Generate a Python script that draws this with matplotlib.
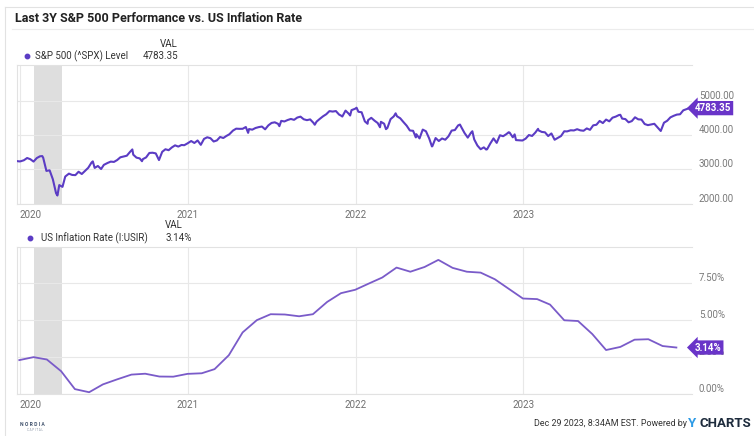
import pandas as pd
import matplotlib.pyplot as plt
from matplotlib.lines import Line2D

plt.rcParams['font.family'] = ['Roboto', 'DejaVu Sans']

# S&P 500 closing levels (roughly weekly)
spx_dates = [
    '2019-12-26', '2019-12-31', '2020-01-03', '2020-01-10', '2020-01-17', '2020-01-24', '2020-01-31',
    '2020-02-07', '2020-02-14', '2020-02-19', '2020-02-21', '2020-02-28', '2020-03-06', '2020-03-13',
    '2020-03-20', '2020-03-23', '2020-03-27', '2020-04-03', '2020-04-09', '2020-04-17', '2020-04-24',
    '2020-05-01', '2020-05-08', '2020-05-15', '2020-05-22', '2020-05-29', '2020-06-05', '2020-06-08',
    '2020-06-12', '2020-06-19', '2020-06-26', '2020-07-02', '2020-07-10', '2020-07-17', '2020-07-24',
    '2020-07-31', '2020-08-07', '2020-08-14', '2020-08-21', '2020-08-28', '2020-09-02', '2020-09-04',
    '2020-09-11', '2020-09-18', '2020-09-23', '2020-09-25', '2020-10-02', '2020-10-09', '2020-10-16',
    '2020-10-23', '2020-10-30', '2020-11-06', '2020-11-13', '2020-11-20', '2020-11-27', '2020-12-04',
    '2020-12-11', '2020-12-18', '2020-12-24', '2020-12-31',
    '2021-01-08', '2021-01-15', '2021-01-22', '2021-01-29', '2021-02-05', '2021-02-12', '2021-02-19',
    '2021-02-26', '2021-03-05', '2021-03-12', '2021-03-19', '2021-03-26', '2021-04-01', '2021-04-09',
    '2021-04-16', '2021-04-23', '2021-04-30', '2021-05-07', '2021-05-12', '2021-05-14', '2021-05-21',
    '2021-05-28', '2021-06-04', '2021-06-11', '2021-06-18', '2021-06-25', '2021-07-02', '2021-07-09',
    '2021-07-16', '2021-07-19', '2021-07-23', '2021-07-30', '2021-08-06', '2021-08-13', '2021-08-20',
    '2021-08-27', '2021-09-03', '2021-09-10', '2021-09-17', '2021-09-24', '2021-10-01', '2021-10-04',
    '2021-10-08', '2021-10-15', '2021-10-22', '2021-10-29', '2021-11-05', '2021-11-12', '2021-11-19',
    '2021-11-26', '2021-11-30', '2021-12-03', '2021-12-10', '2021-12-17', '2021-12-20', '2021-12-23',
    '2021-12-31', '2022-01-03',
    '2022-01-07', '2022-01-14', '2022-01-21', '2022-01-27', '2022-01-28', '2022-02-04', '2022-02-11',
    '2022-02-18', '2022-02-23', '2022-02-25', '2022-03-04', '2022-03-08', '2022-03-11', '2022-03-18',
    '2022-03-25', '2022-03-29', '2022-04-01', '2022-04-08', '2022-04-14', '2022-04-22', '2022-04-29',
    '2022-05-06', '2022-05-12', '2022-05-13', '2022-05-20', '2022-05-27', '2022-06-03', '2022-06-10',
    '2022-06-16', '2022-06-17', '2022-06-24', '2022-07-01', '2022-07-08', '2022-07-15', '2022-07-22',
    '2022-07-29', '2022-08-05', '2022-08-12', '2022-08-16', '2022-08-19', '2022-08-26', '2022-09-02',
    '2022-09-09', '2022-09-12', '2022-09-16', '2022-09-23', '2022-09-30', '2022-10-07', '2022-10-12',
    '2022-10-14', '2022-10-21', '2022-10-28', '2022-11-04', '2022-11-11', '2022-11-18', '2022-11-25',
    '2022-11-30', '2022-12-02', '2022-12-09', '2022-12-13', '2022-12-16', '2022-12-23', '2022-12-30',
    '2023-01-06', '2023-01-13', '2023-01-20', '2023-01-27', '2023-02-02', '2023-02-03', '2023-02-10',
    '2023-02-17', '2023-02-24', '2023-03-03', '2023-03-10', '2023-03-17', '2023-03-24', '2023-03-31',
    '2023-04-06', '2023-04-14', '2023-04-21', '2023-04-28', '2023-05-05', '2023-05-12', '2023-05-19',
    '2023-05-26', '2023-06-02', '2023-06-09', '2023-06-16', '2023-06-23', '2023-06-30', '2023-07-07',
    '2023-07-14', '2023-07-21', '2023-07-28', '2023-07-31', '2023-08-04', '2023-08-11', '2023-08-18',
    '2023-08-25', '2023-09-01', '2023-09-08', '2023-09-15', '2023-09-22', '2023-09-29', '2023-10-06',
    '2023-10-13', '2023-10-20', '2023-10-27', '2023-11-03', '2023-11-10', '2023-11-17', '2023-11-24',
    '2023-12-01', '2023-12-08', '2023-12-15', '2023-12-22', '2023-12-28',
]
spx_close = [
    3240, 3231, 3235, 3265, 3330, 3295, 3226,
    3328, 3380, 3386, 3338, 2954, 2972, 2711,
    2305, 2237, 2541, 2489, 2790, 2875, 2837,
    2831, 2930, 2864, 2955, 3044, 3194, 3232,
    3041, 3098, 3009, 3130, 3185, 3225, 3216,
    3271, 3351, 3373, 3397, 3508, 3580, 3427,
    3341, 3319, 3237, 3298, 3348, 3477, 3484,
    3465, 3270, 3510, 3585, 3558, 3638, 3699,
    3663, 3710, 3703, 3756,
    3825, 3768, 3841, 3714, 3887, 3934, 3907,
    3811, 3842, 3943, 3913, 3975, 4020, 4129,
    4185, 4180, 4181, 4233, 4063, 4174, 4156,
    4204, 4230, 4247, 4166, 4281, 4352, 4370,
    4327, 4258, 4412, 4395, 4437, 4468, 4442,
    4509, 4535, 4459, 4433, 4455, 4357, 4300,
    4391, 4471, 4545, 4605, 4697, 4683, 4698,
    4595, 4567, 4538, 4712, 4620, 4568, 4725,
    4766, 4796,
    4677, 4663, 4398, 4327, 4432, 4501, 4419,
    4349, 4226, 4385, 4329, 4171, 4204, 4463,
    4543, 4632, 4546, 4488, 4393, 4272, 4132,
    4123, 3930, 4024, 3901, 4158, 4109, 3901,
    3667, 3675, 3912, 3825, 3899, 3863, 3962,
    4130, 4145, 4280, 4305, 4228, 4058, 3924,
    4067, 4110, 3873, 3693, 3586, 3640, 3577,
    3583, 3752, 3901, 3771, 3993, 3965, 4026,
    4080, 4072, 3934, 4019, 3852, 3845, 3840,
    3895, 3999, 3973, 4071, 4180, 4136, 4090,
    4079, 3970, 4046, 3862, 3917, 3971, 4109,
    4105, 4138, 4133, 4169, 4136, 4124, 4192,
    4151, 4282, 4299, 4410, 4348, 4450, 4399,
    4505, 4536, 4582, 4589, 4478, 4464, 4370,
    4406, 4516, 4457, 4450, 4320, 4288, 4308,
    4327, 4224, 4117, 4358, 4415, 4514, 4559,
    4595, 4604, 4719, 4755, 4783.35,
]

# US inflation rate, monthly, Dec 2019 - Nov 2023 (%)
cpi_yoy = [
    2.29,
    2.49, 2.33, 1.54, 0.33, 0.12, 0.65, 0.99, 1.31, 1.37, 1.18, 1.17, 1.36,
    1.40, 1.68, 2.62, 4.16, 4.99, 5.39, 5.37, 5.25, 5.39, 6.22, 6.81, 7.04,
    7.48, 7.87, 8.54, 8.26, 8.58, 9.06, 8.52, 8.26, 8.20, 7.75, 7.11, 6.45,
    6.41, 6.04, 4.98, 4.93, 4.05, 2.97, 3.18, 3.67, 3.70, 3.24, 3.14,
]
cpi_dates = pd.date_range('2019-12-31', periods=len(cpi_yoy), freq='ME')

spx_ticks = [2000, 3000, 4000, 5000]
spx_tick_labels = ['2000.00', '3000.00', '4000.00', '5000.00']
cpi_ticks = [0, 2.5, 5, 7.5]
cpi_tick_labels = ['0.00%', '2.50%', '5.00%', '7.50%']
year_ticks = ['2020-01-01', '2021-01-01', '2022-01-01', '2023-01-01']
year_labels = ['2020', '2021', '2022', '2023']

W, H = 754, 436
purple = '#5b3cc4'
purple_light = '#7a5bc9'
badge = '#6934c8'
grid_c = '#e8e8e8'


def rect(l, t, r, b):
    return [l / W, 1 - b / H, (r - l) / W, (b - t) / H]


def fx(x):
    return x / W


def fy(y):
    return 1 - y / H


fig = plt.figure(figsize=(W / 100, H / 100), dpi=100)

# card border and title rule
fig.add_artist(Line2D([fx(5), fx(754)], [fy(7), fy(7)], color='#e2e2e2', lw=0.8))
fig.add_artist(Line2D([fx(5), fx(5)], [fy(7), fy(436)], color='#e2e2e2', lw=0.8))
fig.add_artist(Line2D([fx(12), fx(754)], [fy(29), fy(29)], color='#ececec', lw=0.8))
fig.text(fx(15), fy(18), 'Last 3Y S&P 500 Performance vs. US Inflation Rate',
         fontsize=9, fontweight='bold', color='#222222', va='center', ha='left')

ax1 = fig.add_axes(rect(17, 65, 692, 204))
ax2 = fig.add_axes(rect(17, 247, 692, 394))

xmin, xmax = pd.Timestamp('2019-12-26'), pd.Timestamp('2024-01-03')

for ax, ticks, labels in [(ax1, spx_ticks, spx_tick_labels),
                          (ax2, cpi_ticks, cpi_tick_labels)]:
    ax.set_xlim(xmin, xmax)
    ax.axvspan(pd.Timestamp('2020-02-01'), pd.Timestamp('2020-04-01'),
               color='#dedede', lw=0, zorder=0)
    ax.set_xticks(pd.to_datetime(year_ticks), year_labels)
    ax.yaxis.tick_right()
    ax.set_yticks(ticks, labels)
    ax.tick_params(axis='x', length=0, pad=4, labelsize=7, labelcolor='#6f6f6f')
    ax.tick_params(axis='y', length=0, pad=5, labelsize=7, labelcolor='#7a7a7a')
    for lbl in ax.get_yticklabels():
        lbl.set_va('bottom')
    ax.get_xticklabels()[0].set_ha('left')
    ax.grid(True, color=grid_c, lw=0.8, zorder=0)
    for side in ['top', 'bottom', 'left']:
        ax.spines[side].set_color('#e2e2e2')
        ax.spines[side].set_linewidth(0.8)
    ax.spines['right'].set_visible(False)
    ax.set_axisbelow(True)

ax1.set_ylim(1990, 6040)
ax1.plot(pd.to_datetime(spx_dates), spx_close, color=purple, lw=1.5, zorder=3)
ax1.text(1.004, spx_close[-1], '4783.35', transform=ax1.get_yaxis_transform(),
         fontsize=7, fontweight='bold', color='white', va='center', ha='left',
         bbox=dict(boxstyle='larrow,pad=0.22', fc=badge, ec='none'), zorder=5)

ax2.set_ylim(0, 9.93)
ax2.plot(cpi_dates, cpi_yoy, color=purple_light, lw=1.3, zorder=3)
ax2.text(1.004, cpi_yoy[-1], '3.14%', transform=ax2.get_yaxis_transform(),
         fontsize=7, fontweight='bold', color='white', va='center', ha='left',
         bbox=dict(boxstyle='larrow,pad=0.22', fc=badge, ec='none'), zorder=5)

# legend rows
txt = '#333333'
fig.text(fx(178), fy(44), 'VAL', fontsize=7, color=txt, ha='right', va='center')
fig.add_artist(Line2D([fx(27)], [fy(56)], marker='o', ms=3.2, color=purple, lw=0))
fig.text(fx(35), fy(56), 'S&P 500 (^SPX) Level', fontsize=7, color=txt, va='center')
fig.text(fx(178), fy(56), '4783.35', fontsize=7, color=txt, ha='right', va='center')

fig.text(fx(183), fy(225), 'VAL', fontsize=7, color=txt, ha='right', va='center')
fig.add_artist(Line2D([fx(30)], [fy(238)], marker='o', ms=3.2, color=purple, lw=0))
fig.text(fx(41), fy(238), 'US Inflation Rate (I:USIR)', fontsize=7, color=txt, va='center')
fig.text(fx(166), fy(238), '3.14%', fontsize=7, color=txt, ha='left', va='center')

# footer
fig.text(fx(20), fy(424), 'N O R D I A', fontsize=3.6, color='#3d4f6a', va='center', fontweight='bold')
fig.text(fx(27), fy(430), 'C A P I T A L', fontsize=2.2, color='#8a95a5', va='center')
fig.text(fx(687), fy(423), 'Dec 29 2023, 8:34AM EST. Powered by', fontsize=6.4,
         color='#333333', ha='right', va='center')
fig.text(fx(688), fy(423), 'Y', fontsize=9.5, fontweight='bold', color='#2e9be6', va='center')
fig.text(fx(699), fy(423), 'CHARTS', fontsize=9.5, fontweight='bold', color='#1d2b3c', va='center')

fig.savefig('out.png', dpi=100)
